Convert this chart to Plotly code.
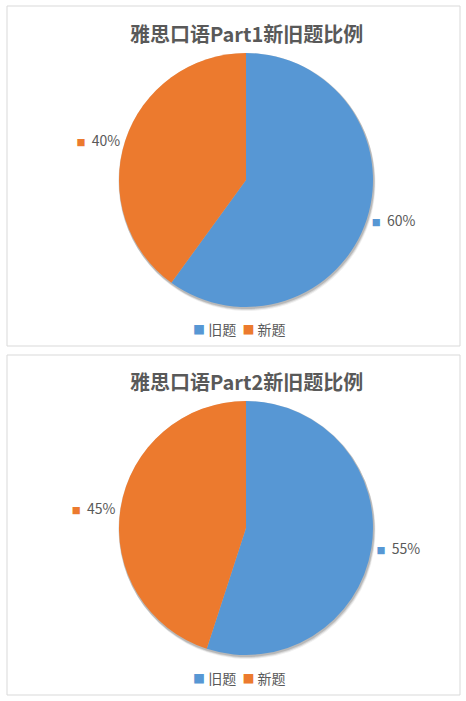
import plotly.graph_objects as go

categories = ["旧题", "新题"]
part1_values = [60, 40]
part2_values = [55, 45]
titles = ["雅思口语Part1新旧题比例", "雅思口语Part2新旧题比例"]
colors = ["#5797d4", "#ec7a2e"]

W, H = 466, 701
FONT = "Noto Sans CJK SC, Microsoft YaHei, sans-serif"
TXT = "#595959"


def py(px):
    return 1 - px / H


def px_x(px):
    return px / W


def labels_for(vals):
    tot = sum(vals)
    return [
        f"<span style='color:{c};font-size:9px'>■</span>  {round(v / tot * 100)}%"
        for v, c in zip(vals, colors)
    ]


def legend_text():
    return "  ".join(
        f"<span style='color:{c};font-size:12px'>■</span> {lab}"
        for lab, c in zip(categories, colors)
    )


R = 127
cx = 246
centers_y = [180, 528]
legend_y = [329, 678]
title_y = [34, 382]
panels = [(6, 346), (355, 695)]

fig = go.Figure()
for i, vals in enumerate([part1_values, part2_values]):
    cy = centers_y[i]
    # soft drop shadow layers (same data, grey, no text)
    for off, alpha in [(3, 0.06), (2, 0.10), (1, 0.14)]:
        r = R + 1
        fig.add_trace(go.Pie(
            labels=categories, values=vals, sort=False, direction="clockwise",
            marker=dict(colors=[f"rgba(0,0,0,{alpha})"] * len(vals), line=dict(width=0)),
            textinfo="none", hoverinfo="skip", showlegend=False,
            domain=dict(x=[px_x(cx - r + off / 2), px_x(cx + r + off / 2)],
                        y=[py(cy + r + off), py(cy - r + off)]),
        ))
    fig.add_trace(go.Pie(
        labels=categories,
        values=vals,
        sort=False,
        direction="clockwise",
        rotation=0,
        marker=dict(colors=colors, line=dict(width=0)),
        text=labels_for(vals),
        textinfo="text",
        textposition="outside",
        textfont=dict(family=FONT, size=14, color=TXT),
        hoverinfo="label+percent",
        domain=dict(x=[px_x(cx - R), px_x(cx + R)], y=[py(cy + R), py(cy - R)]),
        showlegend=False,
    ))

shapes = []
for (t, b) in panels:
    shapes.append(dict(type="rect", xref="paper", yref="paper",
                       x0=px_x(7), x1=px_x(460), y0=py(b), y1=py(t),
                       line=dict(color="#d9d9d9", width=1), fillcolor="rgba(0,0,0,0)"))

annotations = []
for i, t in enumerate(titles):
    annotations.append(dict(text=f"<b>{t}</b>", x=px_x(246), y=py(title_y[i]),
                            xref="paper", yref="paper", showarrow=False,
                            xanchor="center", yanchor="middle",
                            font=dict(family=FONT, size=20, color=TXT)))
    annotations.append(dict(text=legend_text(), x=px_x(239), y=py(legend_y[i]),
                            xref="paper", yref="paper", showarrow=False,
                            xanchor="center", yanchor="middle",
                            font=dict(family=FONT, size=14, color=TXT)))

fig.update_layout(
    width=W, height=H,
    margin=dict(l=0, r=0, t=0, b=0),
    paper_bgcolor="white", plot_bgcolor="white",
    shapes=shapes, annotations=annotations,
    showlegend=False,
)

fig.write_html("out.html",
               config={"displayModeBar": False},
               post_script="document.body.style.margin='0';document.body.style.overflow='hidden';")
